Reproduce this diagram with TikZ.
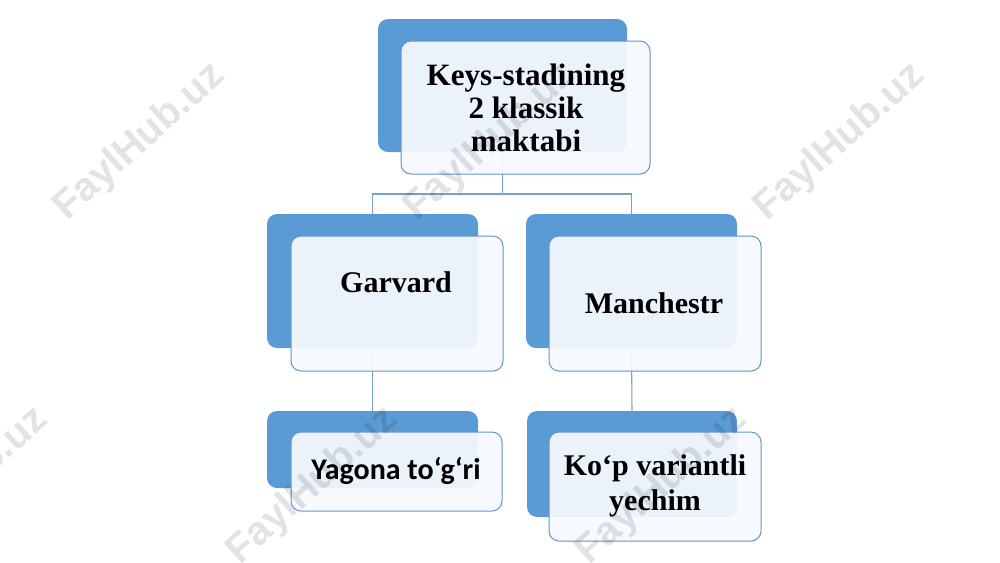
\documentclass[tikz,border=0pt]{standalone}
\usepackage{fontspec}
\setmainfont{Liberation Serif}
\newfontfamily\calfont{Carlito}
\newfontfamily\wmfont{Liberation Sans}
\usetikzlibrary{fit}
\definecolor{boxblue}{RGB}{91,155,213}
\definecolor{edgeblue}{RGB}{100,150,205}
\definecolor{connblue}{RGB}{115,160,208}
\definecolor{whitefill}{RGB}{246,249,253}
\begin{document}
\begin{tikzpicture}[x=0.75pt,y=-0.75pt,
  backbox/.style={fill=boxblue,draw=none,rounded corners=7.5pt,inner sep=0pt},
  frontbox/.style={fill=whitefill,fill opacity=0.93,draw=edgeblue,line width=0.75pt,rounded corners=7.5pt,inner sep=0pt},
  conn/.style={draw=connblue,line width=0.8pt},
  lbl/.style={font=\bfseries\fontsize{22.5}{26}\selectfont,align=center,inner sep=0pt},
  toplbl/.style={font=\bfseries\fontsize{23.3}{24.8}\selectfont,align=center,inner sep=0pt},
  wm/.style={font=\wmfont\bfseries\fontsize{30}{30}\selectfont,text=black,text opacity=0.11,rotate=42,inner sep=0pt}]
\useasboundingbox (0,0) rectangle (1000,562);
\fill[white] (0,0) rectangle (1000,562);
% blue back boxes
\node[backbox,fit={(378,19) (627,152)}] (b0) {};
\node[backbox,fit={(267,214) (478,348)}] (bL) {};
\node[backbox,fit={(526,214) (737,348)}] (bR) {};
\node[backbox,fit={(267,411) (478,488)}] (bLL) {};
\node[backbox,fit={(527,411) (737,517)}] (bRR) {};
% connectors
\coordinate (bus) at (502,194);
\path[conn] (b0.south) -- (b0.south |- bus) -| (bL.north);
\path[conn] (b0.south |- bus) -| (bR.north);
\path[conn] (bL.south) -- (bLL.north);
\path[conn] (bR.south) -- (bRR.north);
% front boxes
\node[frontbox,fit={(401,41) (650,174)}] (w0) {};
\node[frontbox,fit={(291,236) (503,371)}] (wL) {};
\node[frontbox,fit={(549,236) (761,371)}] (wR) {};
\node[frontbox,fit={(291,432) (502,511)}] (wLL) {};
\node[frontbox,fit={(549,432) (761,541)}] (wRR) {};
% labels
\node[toplbl] (t0) at (526,108) {Keys-stadining\\2 klassik\\maktabi};
\node[lbl] (tL) at (396,282) {Garvard};
\node[lbl] (tR) at (654,303) {Manchestr};
\node[lbl,font=\calfont\bfseries\fontsize{22.5}{26}\selectfont] (tLL) at (396,471) {Yagona to‘g‘ri};
\node[lbl] (tRR) at (655,486) {Ko‘p variantli\\yechim};
% watermarks
\node[wm] (m1) at (140,142) {FaylHub.uz};
\node[wm] (m2) at (490,142) {FaylHub.uz};
\node[wm] (m3) at (840,142) {FaylHub.uz};
\node[wm] (m4) at (-37,486) {FaylHub.uz};
\node[wm] (m5) at (313,486) {FaylHub.uz};
\node[wm] (m6) at (662,486) {FaylHub.uz};
\end{tikzpicture}
\end{document}
